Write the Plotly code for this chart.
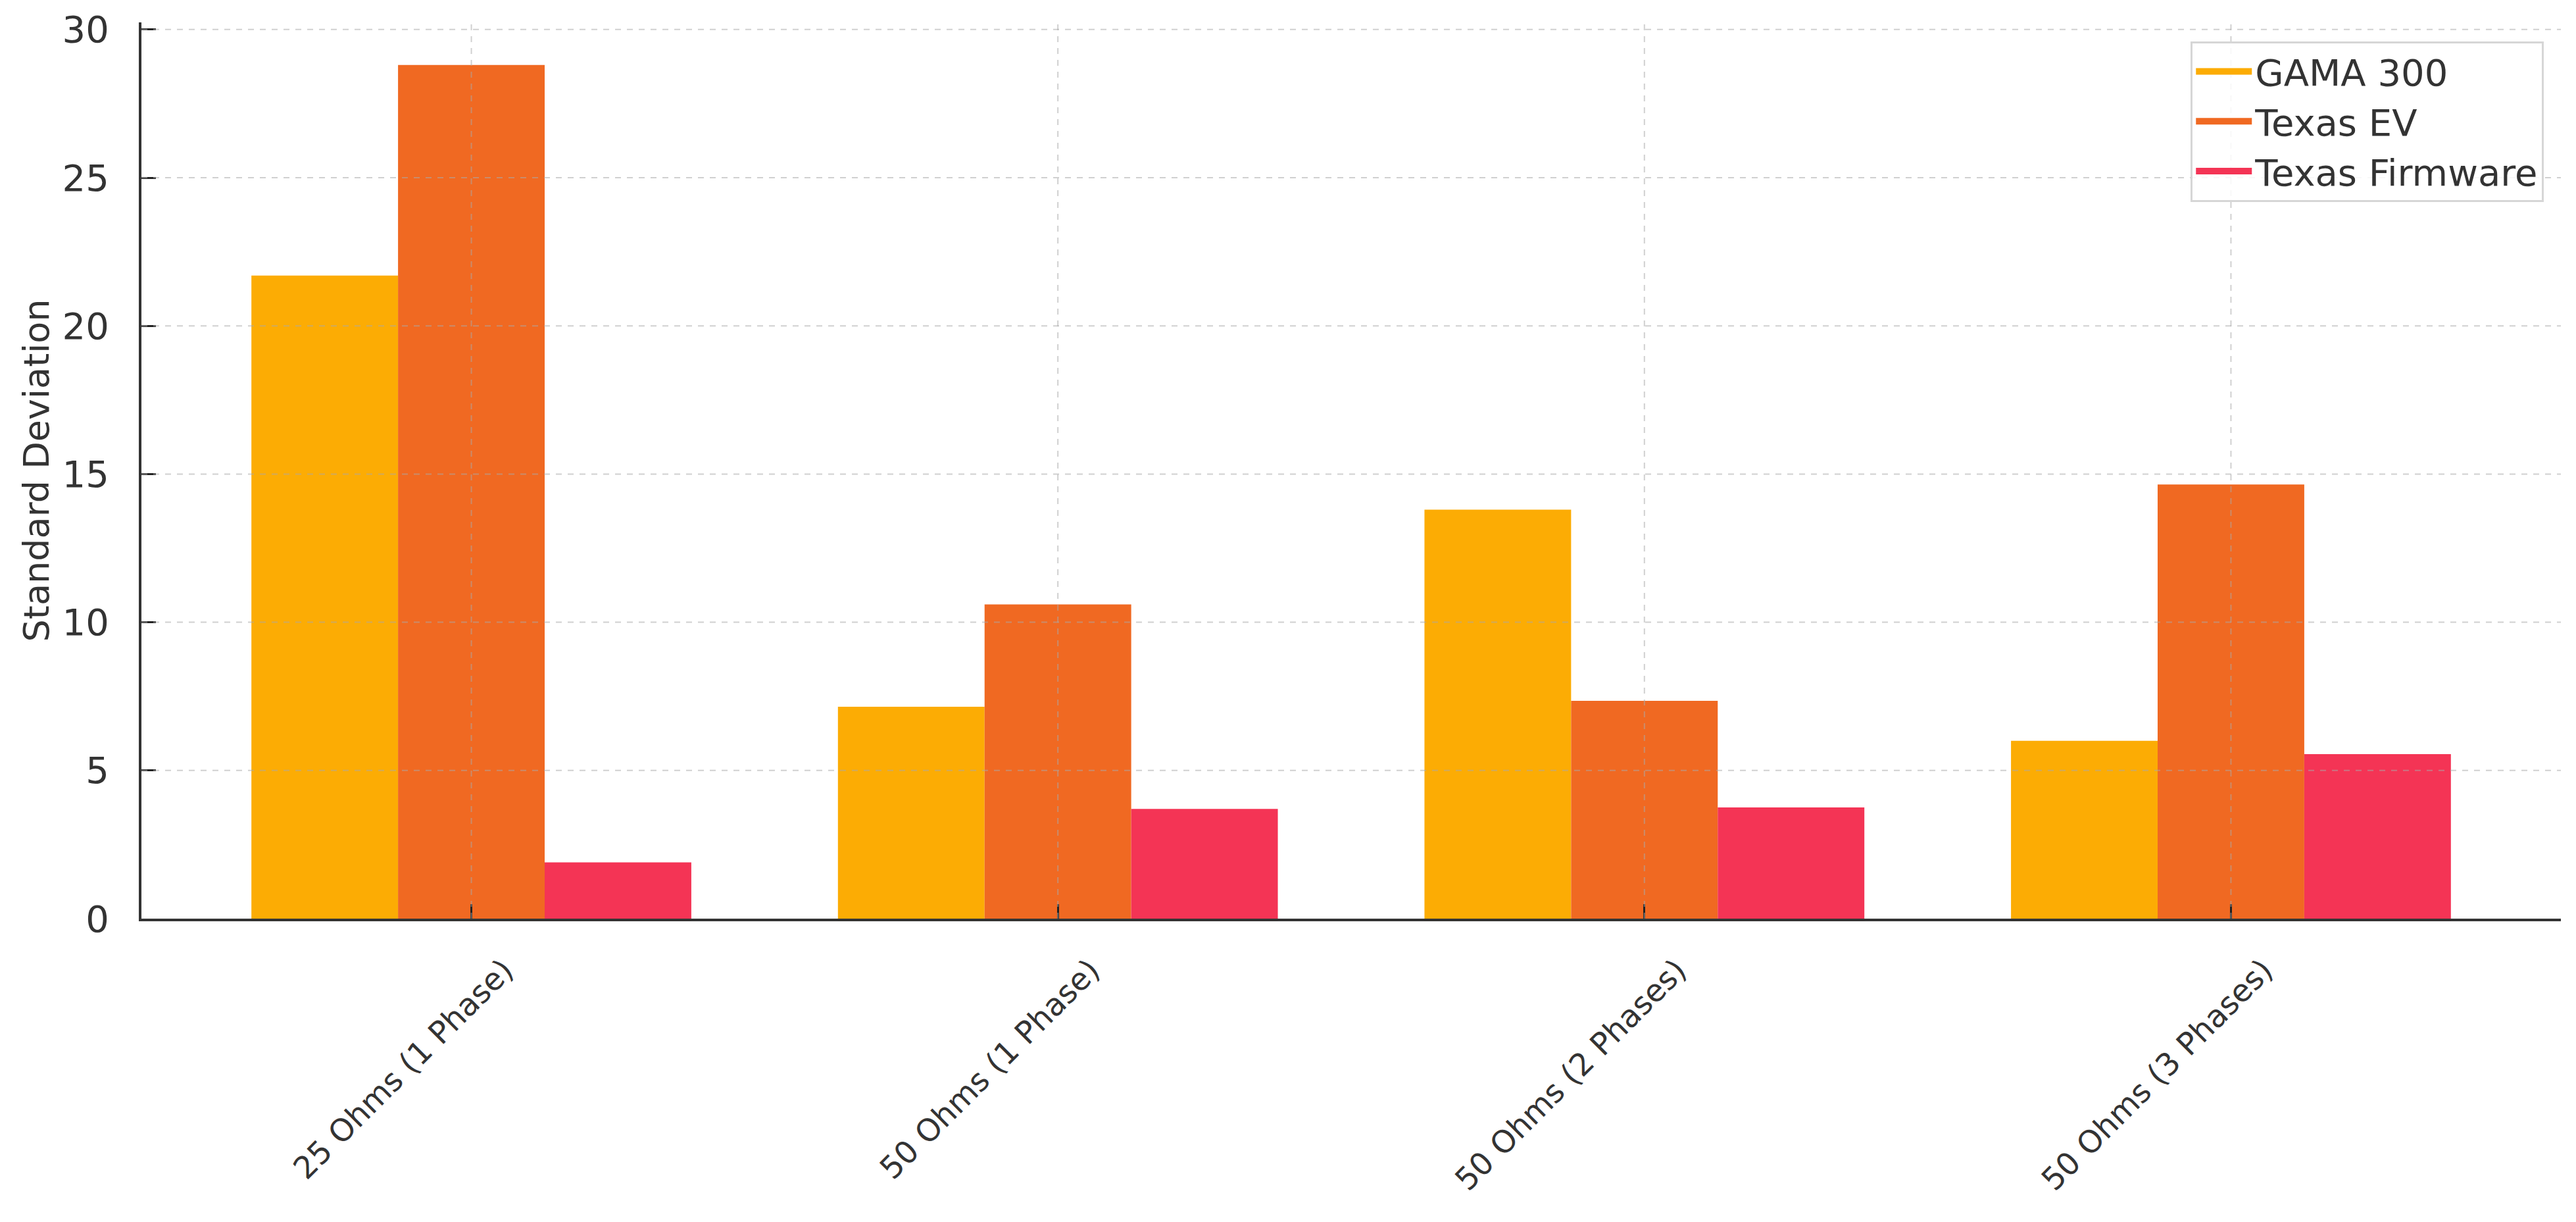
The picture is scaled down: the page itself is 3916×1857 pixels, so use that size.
import plotly.graph_objects as go

categories = ["25 Ohms (1 Phase)", "50 Ohms (1 Phase)", "50 Ohms (2 Phases)", "50 Ohms (3 Phases)"]
gama_300 = [21.7, 7.15, 13.8, 6.0]
texas_ev = [28.8, 10.6, 7.35, 14.65]
texas_firmware = [1.9, 3.7, 3.75, 5.55]
y_ticks = [0, 5, 10, 15, 20, 25, 30]

series = (
    ("GAMA 300", gama_300, "#FCAC04"),
    ("Texas EV", texas_ev, "#F06922"),
    ("Texas Firmware", texas_firmware, "#F43455"),
)

font_family = "DejaVu Sans"
text_color = "#333333"
grid_color = "rgba(170,170,170,0.55)"

fig = go.Figure()
for name, values, color in series:
    fig.add_trace(
        go.Bar(
            x=categories,
            y=values,
            name=name,
            showlegend=False,
            marker=dict(color=color, line=dict(width=0)),
        )
    )
# wide legend swatches, closer to matplotlib's patches than plotly's tiny squares
for name, values, color in series:
    fig.add_trace(
        go.Scatter(
            x=[None],
            y=[None],
            mode="lines",
            name=name,
            line=dict(color=color, width=30),
            hoverinfo="skip",
        )
    )

# matplotlib-style dashed grid drawn over the bars
grid_shapes = []
for i in range(len(categories)):
    grid_shapes.append(
        dict(type="line", xref="x", yref="paper", x0=i, x1=i, y0=0, y1=1,
             line=dict(color=grid_color, width=2, dash="dash"), layer="above")
    )
for t in y_ticks[1:]:
    grid_shapes.append(
        dict(type="line", xref="paper", yref="y", x0=0, x1=1, y0=t, y1=t,
             line=dict(color=grid_color, width=2, dash="dash"), layer="above")
    )

fig.update_layout(
    width=3916,
    height=1857,
    barmode="group",
    bargap=0.25,
    bargroupgap=0,
    template="plotly_white",
    plot_bgcolor="white",
    paper_bgcolor="white",
    font=dict(family=font_family, color=text_color, size=44),
    margin=dict(l=215, r=23, t=29, b=461),
    shapes=grid_shapes,
    legend=dict(
        x=0.993,
        y=0.979,
        xanchor="right",
        yanchor="top",
        bgcolor="rgba(255,255,255,0.85)",
        bordercolor="#d6d6d6",
        borderwidth=3,
        font=dict(size=56, color=text_color),
        itemwidth=85,
        tracegroupgap=0,
    ),
)
fig.update_xaxes(
    type="category",
    range=[-0.5625, 3.5625],
    showgrid=False,
    showline=True,
    linecolor="#333333",
    linewidth=4,
    ticks="inside",
    ticklen=22,
    tickwidth=3,
    tickcolor="#222222",
    tickangle=-45,
    tickfont=dict(size=47, color=text_color),
    ticklabelshift=50,
    ticklabelstandoff=28,
    layer="above traces",
    mirror=False,
)
fig.update_yaxes(
    range=[0, 30.24],
    tickvals=y_ticks,
    showgrid=False,
    zeroline=False,
    showline=True,
    linecolor="#333333",
    linewidth=4,
    ticks="inside",
    ticklen=22,
    tickwidth=3,
    tickcolor="#222222",
    tickfont=dict(size=56, color=text_color),
    ticklabelstandoff=34,
    title=dict(text="Standard Deviation", font=dict(size=54, color=text_color), standoff=4),
    layer="above traces",
)

fig.write_html(
    "out.html",
    config={"displayModeBar": False},
    post_script="document.body.style.margin='0';",
)
